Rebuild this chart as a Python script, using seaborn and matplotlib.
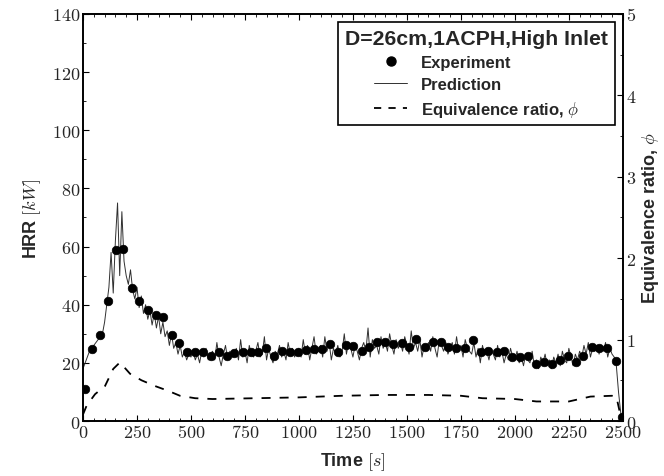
import numpy as np
import pandas as pd
import seaborn as sns
import matplotlib
matplotlib.use("Agg")
import matplotlib.pyplot as plt
from matplotlib.lines import Line2D
from matplotlib.ticker import MultipleLocator, FuncFormatter

# ---------------- data ----------------
exp_t = [9, 40, 79, 117, 151, 187, 225, 261, 299, 336, 372, 411, 446, 480, 519, 554, 591, 630, 665, 700,
         739, 776, 812, 847, 884, 920, 958, 994, 1031, 1069, 1105, 1144, 1179, 1218, 1251, 1290, 1326, 1360,
         1398, 1437, 1475, 1510, 1544, 1583, 1619, 1656, 1691, 1728, 1767, 1804, 1841, 1877, 1915, 1950,
         1987, 2023, 2062, 2096, 2134, 2170, 2208, 2247, 2282, 2316, 2355, 2390, 2428, 2467, 2494]
exp_hrr = [11, 24.8, 29.7, 41.2, 58.9, 59.2, 45.6, 41.4, 38.3, 36.5, 35.7, 29.7, 26.8, 23.8, 23.8, 23.8,
           22.2, 23.8, 22.2, 23.4, 23.8, 23.8, 23.8, 25.0, 22.2, 24.0, 23.6, 23.6, 24.5, 24.8, 24.8, 26.5,
           23.6, 26.2, 25.9, 24.0, 25.3, 27.1, 27.1, 26.5, 26.8, 25.3, 28.2, 25.3, 27.1, 27.1, 25.3, 25.2,
           25.1, 28.0, 23.6, 24.0, 23.6, 24.0, 21.9, 21.9, 22.5, 19.6, 20.4, 19.6, 21.1, 22.2, 20.4, 22.2,
           25.3, 25.0, 25.1, 20.5, 1.3]

pred_t = list(range(0, 2501, 10))
pred_hrr = [
    18, 20, 22, 24, 25, 26, 27, 28, 29, 30,
    34, 40, 46, 58, 44, 62, 75, 50, 72, 55,
    50, 47, 52, 45, 42, 46, 39, 43, 37, 40,
    35, 38, 33, 37, 32, 36, 30, 34, 29, 31,
    26, 30, 25, 27, 23, 26, 22, 24, 21, 23,
    22, 24, 21, 23, 20, 24, 22, 25, 21, 23,
    24, 21, 27, 22, 19, 23, 26, 21, 24, 22,
    23, 25, 21, 28, 22, 24, 20, 26, 23, 22,
    24, 27, 22, 23, 29, 21, 25, 22, 20, 24,
    23, 26, 22, 24, 21, 27, 23, 25, 22, 24,
    25, 22, 28, 23, 26, 21, 25, 29, 23, 24,
    26, 22, 29, 24, 27, 21, 25, 23, 26, 22,
    24, 30, 23, 27, 25, 22, 26, 24, 21, 25,
    27, 24, 32, 22, 28, 25, 26, 23, 29, 25,
    27, 24, 30, 26, 23, 28, 25, 27, 24, 29,
    26, 23, 31, 25, 27, 24, 28, 22, 26, 25,
    27, 24, 29, 25, 22, 28, 26, 24, 27, 23,
    25, 27, 23, 29, 24, 26, 22, 28, 25, 24,
    23, 27, 22, 25, 20, 26, 23, 24, 21, 25,
    23, 21, 26, 22, 24, 20, 23, 21, 25, 22,
    21, 24, 20, 22, 19, 23, 21, 20, 24, 19,
    21, 18, 22, 20, 23, 19, 21, 18, 22, 20,
    23, 19, 24, 21, 20, 25, 22, 19, 23, 21,
    24, 22, 26, 23, 27, 22, 25, 24, 26, 23,
    26, 24, 27, 22, 25, 23, 22, 19, 10, 3,
    0,
]

phi_t = [0, 17, 56, 102, 140, 171, 218, 271, 333, 395, 449, 519, 600, 800, 1000, 1200, 1400, 1600,
         1750, 1850, 2000, 2100, 2250, 2350, 2450, 2470, 2495]
phi = [0.08, 0.19, 0.33, 0.43, 0.64, 0.72, 0.58, 0.50, 0.43, 0.37, 0.31, 0.28, 0.27, 0.28, 0.29, 0.31,
       0.32, 0.32, 0.31, 0.28, 0.27, 0.24, 0.24, 0.30, 0.31, 0.30, 0.0]

legend_title = "D=26cm,1ACPH,High Inlet"
legend_labels = ["Experiment", "Prediction", r"Equivalence ratio, $\phi$"]

# ---------------- style ----------------
sns.set_style("ticks")
plt.rcParams["font.family"] = ["Liberation Sans", "DejaVu Sans"]
plt.rcParams["mathtext.fontset"] = "cm"

fig = plt.figure(figsize=(6.64, 4.77), dpi=100)
ax = fig.add_axes([0.125, 0.1153, 0.813, 0.8533])

pred_df = pd.DataFrame({"t": pred_t, "hrr": pred_hrr})
exp_df = pd.DataFrame({"t": exp_t, "hrr": exp_hrr})
phi_df = pd.DataFrame({"t": phi_t, "phi": phi})

sns.lineplot(data=pred_df, x="t", y="hrr", ax=ax, color="#303030", lw=0.7, zorder=2)
sns.scatterplot(data=exp_df, x="t", y="hrr", ax=ax, color="black", s=38, edgecolor="black",
                linewidth=0.5, zorder=3)

ax2 = ax.twinx()
sns.lineplot(data=phi_df, x="t", y="phi", ax=ax2, color="black", lw=1.3)
ax2.lines[0].set_linestyle((0, (5, 5)))

ax.set_xlim(0, 2500)
ax.set_ylim(0, 140)
ax2.set_ylim(0, 5)

cm_fmt = FuncFormatter(lambda v, p: f"${v:g}$")
ax.xaxis.set_major_locator(MultipleLocator(250))
ax.xaxis.set_minor_locator(MultipleLocator(50))
ax.yaxis.set_major_locator(MultipleLocator(20))
ax.yaxis.set_minor_locator(MultipleLocator(10))
ax2.yaxis.set_major_locator(MultipleLocator(1))
ax2.yaxis.set_minor_locator(MultipleLocator(0.5))
ax.xaxis.set_major_formatter(cm_fmt)
ax.yaxis.set_major_formatter(cm_fmt)
ax2.yaxis.set_major_formatter(cm_fmt)

ax.tick_params(which="both", direction="in", top=True, right=False, labelsize=13, color="black")
ax.tick_params(which="major", length=4, width=0.8, pad=2)
ax.tick_params(which="minor", length=2, width=0.6)
ax2.tick_params(which="both", direction="in", labelsize=13, color="black")
ax2.tick_params(which="major", length=4, width=0.8, pad=2)
ax2.tick_params(which="minor", length=2, width=0.6)

for a in (ax, ax2):
    for s in a.spines.values():
        s.set_color("black")
        s.set_linewidth(1.2)

ax.set_xlabel(r"Time $[s]$", fontsize=13, fontweight="bold", labelpad=7)
ax.set_ylabel(r"HRR $[kW]$", fontsize=13, fontweight="bold", labelpad=6)
ax2.set_ylabel(r"Equivalence ratio, $\phi$", fontsize=13, fontweight="bold", labelpad=3)

handles = [
    Line2D([], [], marker="o", color="black", ls="none", markersize=6.5),
    Line2D([], [], color="#303030", lw=0.7),
    Line2D([], [], color="black", lw=1.3, ls=(0, (4, 4))),
]
leg = ax2.legend(handles, legend_labels, title=legend_title, loc="upper right",
                 bbox_to_anchor=(0.985, 0.980), borderaxespad=0.0, frameon=True, fancybox=False,
                 edgecolor="black", framealpha=1, handlelength=2.0, handletextpad=0.8,
                 borderpad=0.4, labelspacing=0.42, alignment="center",
                 prop={"weight": "bold", "size": 12},
                 title_fontproperties={"weight": "bold", "size": 15.3})
leg.get_frame().set_linewidth(1.2)

fig.savefig("out.png", dpi=100, facecolor="white")
